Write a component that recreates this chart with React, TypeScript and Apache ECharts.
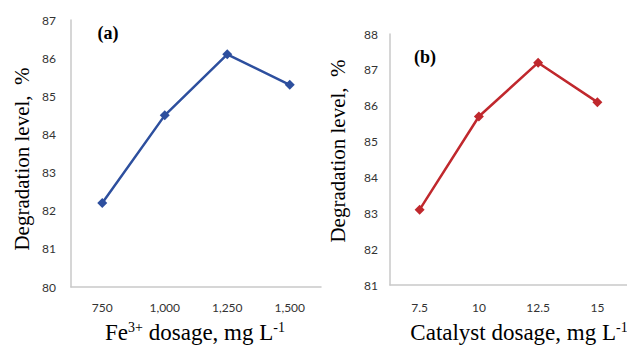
import React, { useEffect, useRef } from "react";
import * as echarts from "echarts";

const feCategories = ["750", "1,000", "1,250", "1,500"];
const feValues = [82.2, 84.5, 86.1, 85.3];
const catCategories = ["7.5", "10", "12.5", "15"];
const catValues = [83.1, 85.7, 87.2, 86.1];
const yTitle = "Degradation level,  %";

const serif = "'Liberation Serif', 'Times New Roman', serif";
const sans = "Lato, 'Open Sans', sans-serif";
const axisColor = "#c9c9c9";

export default function App() {
  const ref = useRef<HTMLDivElement>(null);
  useEffect(() => {
    if (!ref.current) return;
    const chart = echarts.init(ref.current, null, { renderer: "svg" });
    const axisLabel = { color: "#333", fontFamily: sans, fontSize: 12 };
    const xRich = {
      n: { font: `23px ${serif}`, fill: "#000", lineHeight: 24, verticalAlign: "bottom" },
      s: { font: `14px ${serif}`, fill: "#000", lineHeight: 24, verticalAlign: "top" },
    };
    chart.setOption({
      animation: false,
      grid: [
        { left: 71, top: 20, width: 250, height: 267 },
        { left: 390, top: 34, width: 247, height: 251 },
      ],
      xAxis: [
        {
          type: "category", gridIndex: 0, data: feCategories,
          axisLine: { lineStyle: { color: axisColor, width: 1.5 } },
          axisTick: { show: false },
          axisLabel: { ...axisLabel, margin: 14 },
        },
        {
          type: "category", gridIndex: 1, data: catCategories,
          axisLine: { lineStyle: { color: axisColor, width: 1.5 } },
          axisTick: { show: false },
          axisLabel: { ...axisLabel, margin: 16 },
        },
      ],
      yAxis: [
        {
          type: "value", gridIndex: 0, min: 80, max: 87, interval: 1,
          axisLine: { show: true, lineStyle: { color: axisColor, width: 1.5 } },
          axisTick: { show: false },
          splitLine: { show: false },
          axisLabel: { ...axisLabel, margin: 15 },
        },
        {
          type: "value", gridIndex: 1, min: 81, max: 88, interval: 1,
          axisLine: { show: true, lineStyle: { color: axisColor, width: 1.5 } },
          axisTick: { show: false },
          splitLine: { show: false },
          axisLabel: { ...axisLabel, margin: 12 },
        },
      ],
      series: [
        {
          type: "line", xAxisIndex: 0, yAxisIndex: 0, data: feValues,
          symbol: "diamond", symbolSize: 10,
          lineStyle: { color: "#2d4f9e", width: 2.5 },
          itemStyle: { color: "#2d4f9e" },
        },
        {
          type: "line", xAxisIndex: 1, yAxisIndex: 1, data: catValues,
          symbol: "diamond", symbolSize: 10,
          lineStyle: { color: "#c0282d", width: 2.5 },
          itemStyle: { color: "#c0282d" },
        },
      ],
      graphic: [
        {
          type: "text", x: 108, y: 33,
          style: { text: "(a)", font: `bold 18px ${serif}`, fill: "#000", align: "center", verticalAlign: "middle" },
        },
        {
          type: "text", x: 425, y: 57,
          style: { text: "(b)", font: `bold 18px ${serif}`, fill: "#000", align: "center", verticalAlign: "middle" },
        },
        {
          type: "text", x: 22, y: 159, rotation: Math.PI / 2,
          style: { text: yTitle, font: `21px ${serif}`, fill: "#000", align: "center", verticalAlign: "middle" },
        },
        {
          type: "text", x: 338, y: 151, rotation: Math.PI / 2,
          style: { text: yTitle, font: `21px ${serif}`, fill: "#000", align: "center", verticalAlign: "middle" },
        },
        {
          type: "text", x: 195, y: 344,
          style: {
            text: "{n|Fe}{s|3+}{n| dosage, mg L}{s|-1}",
            align: "center", verticalAlign: "bottom",
            rich: xRich,
          },
        },
        {
          type: "text", x: 519, y: 344,
          style: {
            text: "{n|Catalyst dosage, mg L}{s|-1}",
            align: "center", verticalAlign: "bottom",
            rich: xRich,
          },
        },
      ],
    });
    return () => chart.dispose();
  }, []);
  return <div ref={ref} style={{ width: 627, height: 345, position: "fixed", left: 0, top: 0, background: "#fff" }} />;
}
